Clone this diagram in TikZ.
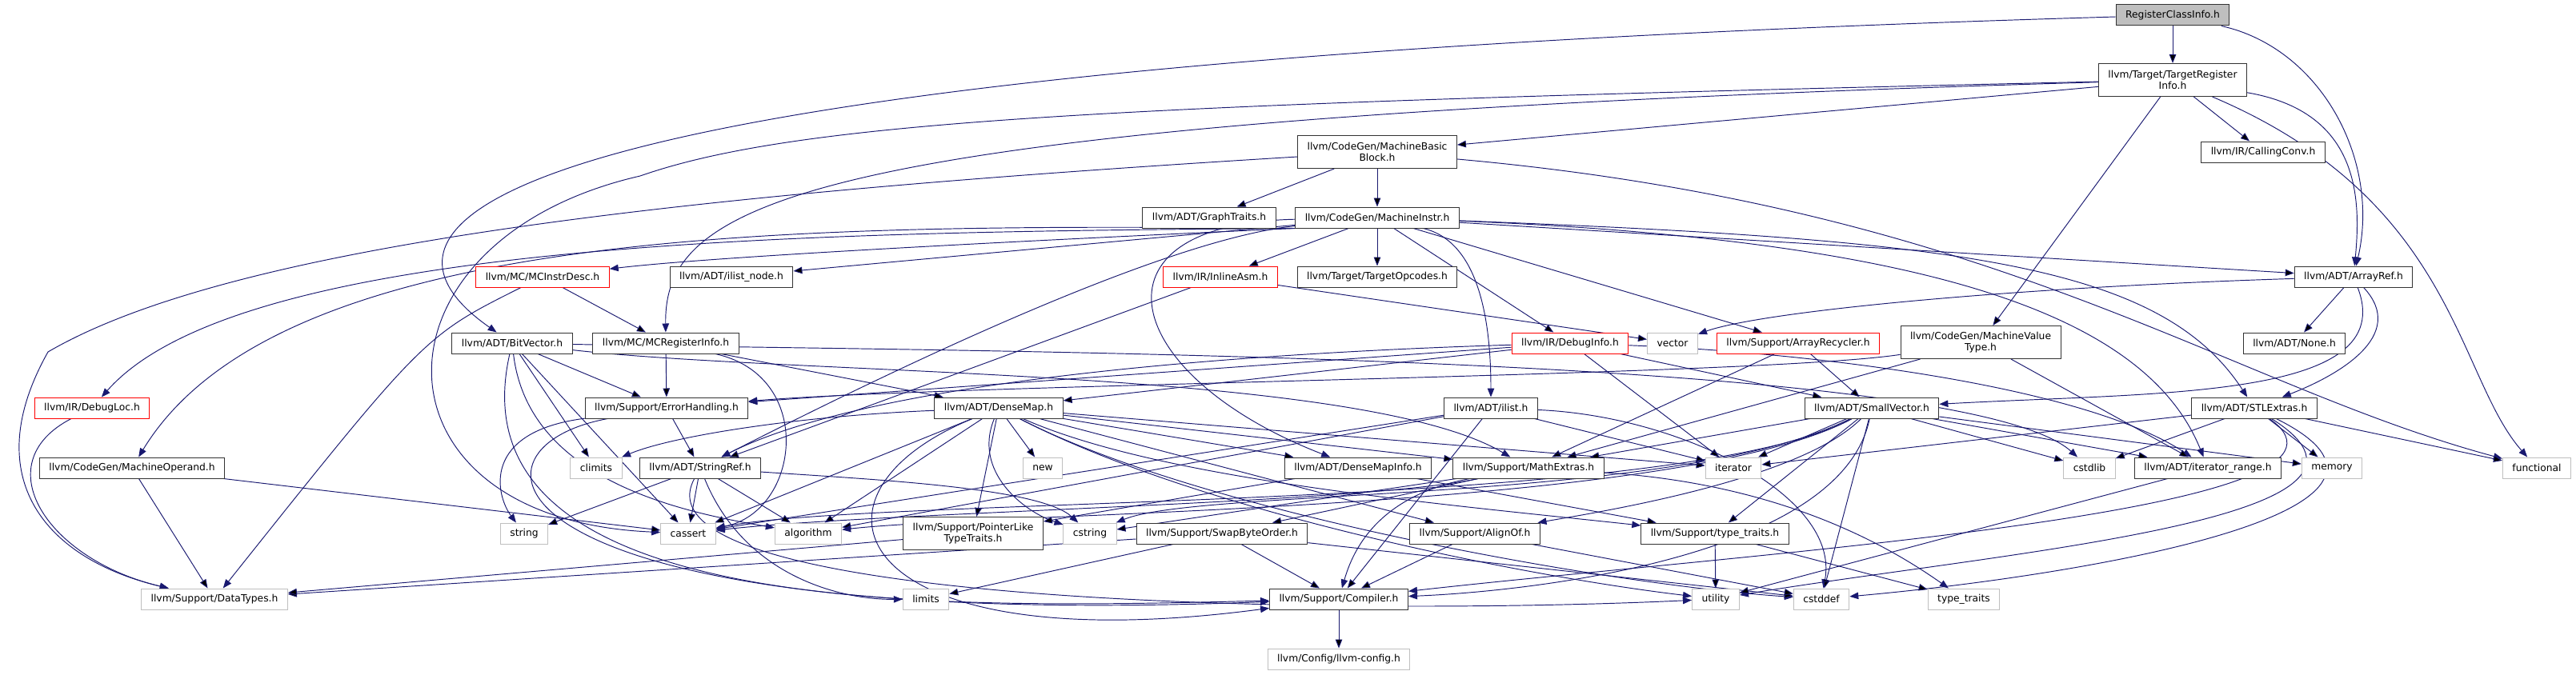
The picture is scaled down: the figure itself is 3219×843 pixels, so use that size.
\documentclass[tikz,border=0pt]{standalone}
\usepackage{fontspec}
\setmainfont{DejaVu Sans}
\usetikzlibrary{arrows.meta,backgrounds}
\definecolor{EdgeBlue}{RGB}{25,25,112}
\definecolor{SysGray}{RGB}{191,191,191}
\definecolor{HdrRed}{RGB}{255,0,0}

\begin{document}
\begin{tikzpicture}[x=1pt,y=-1pt,>={Triangle[length=11pt,width=8.5pt]},
    hdr/.style={draw=black!80,fill=white,line width=1pt,inner xsep=12pt,
      inner ysep=3pt,minimum height=26pt,font=\fontsize{12.3}{14}\selectfont},
    two/.style={minimum height=41pt,align=center},
    trunc/.style={hdr,draw=HdrRed},
    sys/.style={hdr,draw=SysGray},
    root/.style={hdr,fill=SysGray},
    dep/.style={->,draw=EdgeBlue,line width=0.95pt}]
  \useasboundingbox (0,0) rectangle (3219,843);
  % rows of headers, top to bottom
  \node[root] (rci) at (2715,19) {RegisterClassInfo.h};
  \node[hdr,two] (tri) at (2715,100) {llvm/Target/TargetRegister\\Info.h};
  \node[hdr,two] (mbb) at (1721,190) {llvm/CodeGen/MachineBasic\\Block.h};
  \node[hdr] (callConv) at (2828,190) {llvm/IR/CallingConv.h};
  \node[hdr] (graphTr) at (1511,272) {llvm/ADT/GraphTraits.h};
  \node[hdr] (mInstr) at (1721,272) {llvm/CodeGen/MachineInstr.h};
  \node[trunc] (mcDesc) at (678,346) {llvm/MC/MCInstrDesc.h};
  \node[hdr] (ilistNode) at (914,346) {llvm/ADT/ilist\_node.h};
  \node[trunc] (inlineAsm) at (1525,346) {llvm/IR/InlineAsm.h};
  \node[hdr] (tgtOpc) at (1721,346) {llvm/Target/TargetOpcodes.h};
  \node[hdr] (arrRef) at (2941,346) {llvm/ADT/ArrayRef.h};
  \node[hdr] (bitVec) at (640,429) {llvm/ADT/BitVector.h};
  \node[hdr] (mcReg) at (832,429) {llvm/MC/MCRegisterInfo.h};
  \node[trunc] (dbgInfo) at (1962,429) {llvm/IR/DebugInfo.h};
  \node[sys] (vecH) at (2090,429) {vector};
  \node[trunc] (arrRec) at (2247,429) {llvm/Support/ArrayRecycler.h};
  \node[hdr,two] (mvt) at (2475,428) {llvm/CodeGen/MachineValue\\Type.h};
  \node[hdr] (noneH) at (2867,429) {llvm/ADT/None.h};
  \node[trunc] (dbgLoc) at (115,510) {llvm/IR/DebugLoc.h};
  \node[hdr] (errH) at (833,510) {llvm/Support/ErrorHandling.h};
  \node[hdr] (dMap) at (1248,510) {llvm/ADT/DenseMap.h};
  \node[hdr] (ilistH) at (1863,510) {llvm/ADT/ilist.h};
  \node[hdr] (smallVec) at (2339,510) {llvm/ADT/SmallVector.h};
  \node[hdr] (stlEx) at (2817,510) {llvm/ADT/STLExtras.h};
  \node[hdr] (mOperand) at (165,585) {llvm/CodeGen/MachineOperand.h};
  \node[sys] (climitsH) at (745,585) {climits};
  \node[hdr] (strRef) at (875,585) {llvm/ADT/StringRef.h};
  \node[sys] (newH) at (1303,585) {new};
  \node[hdr] (dMapInfo) at (1697,585) {llvm/ADT/DenseMapInfo.h};
  \node[hdr] (mathEx) at (1910,585) {llvm/Support/MathExtras.h};
  \node[sys] (iterH) at (2166,585) {iterator};
  \node[sys] (cstdlibH) at (2611,585) {cstdlib};
  \node[hdr] (iterRange) at (2759,585) {llvm/ADT/iterator\_range.h};
  \node[sys] (memoryH) at (2914,585) {memory};
  \node[sys] (functionalH) at (3170,585) {functional};
  \node[sys] (stringH) at (655,667) {string};
  \node[sys] (cassertH) at (860,667) {cassert};
  \node[sys] (algorithmH) at (1010,667) {algorithm};
  \node[hdr,two] (ptrLike) at (1216,667) {llvm/Support/PointerLike\\TypeTraits.h};
  \node[sys] (cstringH) at (1362,667) {cstring};
  \node[hdr] (swapBO) at (1527,667) {llvm/Support/SwapByteOrder.h};
  \node[hdr] (alignOf) at (1843,667) {llvm/Support/AlignOf.h};
  \node[hdr] (typeTr) at (2143,667) {llvm/Support/type\_traits.h};
  \node[sys] (dataTypes) at (268,749) {llvm/Support/DataTypes.h};
  \node[sys] (limitsH) at (1157,749) {limits};
  \node[hdr] (compilerH) at (1673,749) {llvm/Support/Compiler.h};
  \node[sys] (utilityH) at (2144,749) {utility};
  \node[sys] (cstddefH) at (2276,749) {cstddef};
  \node[sys] (typeTraitsH) at (2454,749) {type\_traits};
  \node[sys] (llvmCfg) at (1673,824) {llvm/Config/llvm-config.h};

  \begin{scope}[on background layer]
    % include edges
    \draw[dep] (rci) edge (tri);
    \draw[dep] (rci) .. controls (2900,60) and (2975,200) .. (arrRef);
    \draw[dep] (rci) .. controls (455,85) and (455,300) .. (bitVec);
    \draw[dep] (tri) edge (mbb) edge (callConv) edge (mvt);
    \draw[dep] (tri) .. controls (2950,140) and (2950,250) .. (arrRef);
    \draw[dep] (tri) .. controls (1000,150) and (830,250) .. (mcReg);
    \draw[dep] (tri) .. controls (1400,130) and (1000,150) .. (800,220)
      .. controls (450,300) and (450,650) .. (cassertH);
    \draw[dep] (tri) .. controls (3069,250) and (3069,470) .. (functionalH);
    \draw[dep] (mbb) edge (graphTr) edge (mInstr);
    \draw[dep] (mbb) .. controls (900,240) and (300,300) .. (60,440)
      .. controls (-30,600) and (60,700) .. (dataTypes);
    \draw[dep] (mbb) .. controls (2500,260) and (2780,480) .. (functionalH);
    \draw[dep] (mInstr) edge (ilistNode) edge (inlineAsm) edge (tgtOpc)
      edge (arrRef) edge (dbgInfo) edge (arrRec);
    \draw[dep] (mInstr.south west) .. controls (1300,300) and (900,320) .. (mcDesc);
    \draw[dep] (mInstr) .. controls (1450,300) and (1100,470) .. (strRef);
    \draw[dep] (mInstr.south west) .. controls (1000,290) and (300,300) .. (dbgLoc);
    \draw[dep] (mInstr.south west) .. controls (1000,280) and (350,280) .. (mOperand);
    \draw[dep] (mInstr) .. controls (1350,280) and (1400,470) .. (dMapInfo);
    \draw[dep] (mInstr) .. controls (1840,300) and (1863,380) .. (ilistH);
    \draw[dep] (mInstr) .. controls (2450,300) and (2700,330) .. (stlEx);
    \draw[dep] (mInstr) .. controls (2400,300) and (2680,390) .. (iterRange);
    \draw[dep] (mcDesc) edge (mcReg);
    \draw[dep] (mcDesc) .. controls (530,420) .. (dataTypes);
    \draw[dep] (inlineAsm) edge (vecH) edge (strRef);
    \draw[dep] (arrRef) edge (noneH);
    \draw[dep] (arrRef) .. controls (3000,500) and (2700,490) .. (smallVec);
    \draw[dep] (arrRef) .. controls (3010,420) and (2920,470) .. (stlEx);
    \draw[dep] (arrRef) .. controls (2500,360) and (2200,390) .. (vecH);
    \draw[dep] (bitVec) edge (errH) edge (climitsH) edge (cassertH);
    \draw[dep] (bitVec) .. controls (660,600) and (850,640) .. (algorithmH);
    \draw[dep] (bitVec) .. controls (560,780) and (1200,760) .. (compilerH);
    \draw[dep] (bitVec) .. controls (1000,470) and (1700,460) .. (mathEx);
    \draw[dep] (bitVec) .. controls (1200,440) and (2450,440) .. (cstdlibH);
    \draw[dep] (mcReg) edge (errH) edge (dMap);
    \draw[dep] (mcReg) .. controls (1020,470) and (1000,640) .. (cassertH);
    \draw[dep] (dbgInfo) edge (dMap) edge (smallVec) edge (errH) edge (iterH);
    \draw[dep] (dbgInfo) .. controls (1600,440) and (1100,470) .. (strRef);
    \draw[dep] (dbgInfo) .. controls (2250,440) and (2600,480) .. (iterRange);
    \draw[dep] (arrRec) edge (smallVec) edge (mathEx);
    \draw[dep] (mvt) edge (mathEx) edge (iterRange);
    \draw[dep] (mvt) .. controls (2200,470) and (1200,480) .. (errH);
    \draw[dep] (dbgLoc) .. controls (-20,580) and (60,700) .. (dataTypes);
    \draw[dep] (errH) edge (strRef);
    \draw[dep] (errH) .. controls (600,540) and (620,620) .. (stringH);
    \draw[dep] (errH) .. controls (560,560) and (600,790) .. (compilerH);
    \draw[dep] (dMap) edge (dMapInfo) edge (alignOf) edge (mathEx) edge (ptrLike)
      edge (algorithmH) edge (cassertH) edge (newH) edge (iterH);
    \draw[dep] (dMap) .. controls (1215,590) and (1280,640) .. (cstringH);
    \draw[dep] (dMap) .. controls (980,620) and (1060,830) .. (compilerH);
    \draw[dep] (dMap) .. controls (1450,600) and (1800,630) .. (typeTr);
    \draw[dep] (dMap) .. controls (1000,520) and (840,545) .. (climitsH);
    \draw[dep] (dMap) .. controls (1500,640) and (1900,720) .. (utilityH);
    \draw[dep] (dMap) .. controls (1500,640) and (2000,730) .. (cstddefH);
    \draw[dep] (ilistH) edge (cassertH) edge (algorithmH) edge (iterH) edge (compilerH);
    \draw[dep] (ilistH) .. controls (2100,520) and (2300,620) .. (cstddefH);
    \draw[dep] (smallVec) edge (iterH) edge (mathEx) edge (typeTr)
      edge (memoryH) edge (cstdlibH) edge (iterRange) edge (cstddefH);
    \draw[dep] (smallVec) .. controls (2250,600) and (2000,640) .. (alignOf);
    \draw[dep] (smallVec) .. controls (2100,640) and (1100,620) .. (cassertH);
    \draw[dep] (smallVec) .. controls (2100,640) and (1250,640) .. (algorithmH);
    \draw[dep] (smallVec) .. controls (2100,630) and (1500,610) .. (cstringH);
    \draw[dep] (smallVec) .. controls (2300,700) and (1900,740) .. (compilerH);
    \draw[dep] (stlEx) edge (iterH) edge (cstdlibH) edge (memoryH) edge (functionalH);
    \draw[dep] (stlEx) .. controls (3000,640) and (2200,690) .. (compilerH);
    \draw[dep] (stlEx) .. controls (3040,650) and (2500,690) .. (utilityH);
    \draw[dep] (stlEx) .. controls (3080,640) and (2600,720) .. (cstddefH);
    \draw[dep] (mOperand) edge (dataTypes) edge (cassertH);
    \draw[dep] (strRef) edge (stringH) edge (cassertH) edge (algorithmH);
    \draw[dep] (strRef) .. controls (1100,600) and (1300,610) .. (cstringH);
    \draw[dep] (strRef) .. controls (930,720) and (1050,750) .. (limitsH);
    \draw[dep] (strRef) .. controls (780,760) and (1700,770) .. (utilityH);
    \draw[dep] (dMapInfo) edge (ptrLike) edge (typeTr);
    \draw[dep] (mathEx) edge (swapBO) edge (cstringH);
    \draw[dep] (mathEx) .. controls (1720,620) and (1690,690) .. (compilerH);
    \draw[dep] (mathEx) .. controls (1700,630) and (1100,640) .. (cassertH);
    \draw[dep] (mathEx) .. controls (2150,600) and (2300,640) .. (typeTraitsH);
    \draw[dep] (swapBO) edge (compilerH) edge (dataTypes) edge (limitsH) edge (cstddefH);
    \draw[dep] (alignOf) edge (compilerH) edge (cstddefH);
    \draw[dep] (typeTr) edge (utilityH) edge (typeTraitsH);
    \draw[dep] (ptrLike) edge (dataTypes);
    \draw[dep] (iterRange) edge (utilityH);
    \draw[dep] (compilerH) edge (llvmCfg);
  \end{scope}
\end{tikzpicture}
\end{document}
